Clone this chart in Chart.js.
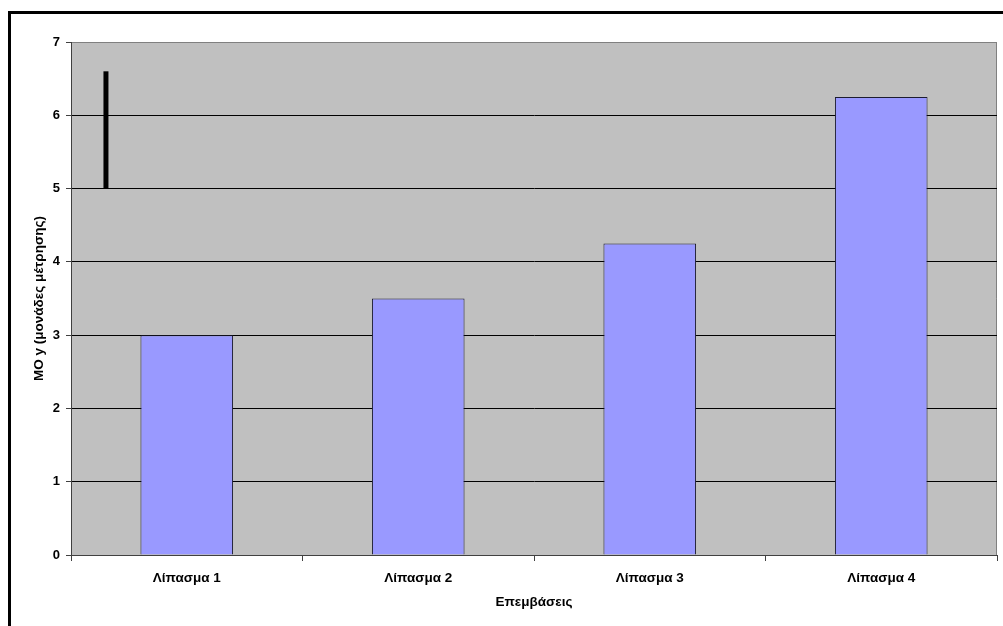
<!DOCTYPE html>
<html lang="el">
  <head>
    <meta charset="UTF-8" />
    <title>ΜΟ y ανά λίπασμα</title>
    <script src="https://cdn.jsdelivr.net/npm/chart.js"></script>
    <style>
      html, body { margin: 0; padding: 0; background: #fff; overflow: hidden; }
      #wrap { width: 1003px; height: 626px; }
    </style>
  </head>
  <body>
    <div id="wrap"><canvas id="fertChart" width="1003" height="626"></canvas></div>

    <script>
      // δεδομένα
      const categories = ["Λίπασμα 1", "Λίπασμα 2", "Λίπασμα 3", "Λίπασμα 4"];
      const meanY = [3, 3.5, 4.25, 6.25];
      const yTicks = [0, 1, 2, 3, 4, 5, 6, 7];
      // κάθετη γραμμή πάνω αριστερά (θέση x σε μονάδες κατηγορίας, από 0 έως 4)
      const markX = [0.151, 0.151];
      const markY = [5, 6.6];

      const FONT = "'Liberation Sans', Arial, sans-serif";

      // λευκό φόντο, πλαίσιο και γκρι περιοχή σχεδίασης
      const backdrop = {
        id: "backdrop",
        beforeDraw(chart) {
          const { ctx, chartArea: a, width, height } = chart;
          ctx.save();
          ctx.fillStyle = "#ffffff";
          ctx.fillRect(0, 0, width, height);
          ctx.strokeStyle = "#000000";
          ctx.lineWidth = 3;
          ctx.beginPath();
          ctx.moveTo(9.5, height + 5);
          ctx.lineTo(9.5, 12.5);
          ctx.lineTo(width + 5, 12.5);
          ctx.stroke();
          ctx.fillStyle = "#c0c0c0";
          ctx.fillRect(a.left, a.top, a.right - a.left, a.bottom - a.top);
          ctx.strokeStyle = "#808080";
          ctx.lineWidth = 1;
          ctx.beginPath();
          ctx.moveTo(a.left, a.top + 0.5);
          ctx.lineTo(a.right - 0.5, a.top + 0.5);
          ctx.lineTo(a.right - 0.5, a.bottom);
          ctx.stroke();
          ctx.restore();
        },
      };

      Chart.defaults.font.family = FONT;
      Chart.defaults.font.size = 13;
      Chart.defaults.font.weight = "bold";
      Chart.defaults.color = "#000000";

      new Chart(document.getElementById("fertChart"), {
        type: "bar",
        data: {
          labels: categories,
          datasets: [
            {
              label: "ΜΟ y",
              data: meanY,
              backgroundColor: "#9999ff",
              borderColor: "#1c1c30",
              borderWidth: 1,
              barPercentage: 0.4,
              categoryPercentage: 1,
              grouped: false,
              order: 2,
            },
            {
              type: "line",
              label: "γραμμή",
              xAxisID: "x2",
              data: markX.map((x, i) => ({ x: x, y: markY[i] })),
              borderColor: "#000000",
              borderWidth: 5,
              pointRadius: 0,
              fill: false,
              order: 1,
            },
          ],
        },
        options: {
          responsive: false,
          animation: false,
          layout: { padding: { left: 31, top: 42, right: 6, bottom: 16 } },
          plugins: {
            legend: { display: false },
            tooltip: { enabled: false },
          },
          scales: {
            x: {
              offset: true,
              grid: {
                offset: true,
                drawOnChartArea: false,
                tickLength: 6,
                tickColor: "#404040",
              },
              border: { color: "#404040", width: 1 },
              ticks: { padding: 9, font: { size: 13.5 } },
              title: {
                display: true,
                text: "Επεμβάσεις",
                font: { size: 13.5, weight: "bold" },
                padding: 0,
              },
              afterFit(axis) { axis.height = 55; },
            },
            x2: {
              type: "linear",
              display: false,
              offset: false,
              grid: { offset: false },
              min: 0,
              max: 4,
            },
            y: {
              min: 0,
              max: 7,
              afterBuildTicks(axis) { axis.ticks = yTicks.map((v) => ({ value: v })); },
              grid: {
                color: (c) => (c.tick && c.tick.value === 7 ? "#808080" : "#000000"),
                tickLength: 5,
                tickColor: "#404040",
              },
              border: { color: "#404040", width: 1 },
              ticks: { padding: 6, font: { size: 13 } },
              title: {
                display: true,
                text: "ΜΟ y (μονάδες μέτρησης)",
                font: { size: 13.5, weight: "bold" },
                padding: 0,
              },
              afterFit(axis) { axis.width = 40; },
            },
          },
        },
        plugins: [backdrop],
      });
    </script>
  </body>
</html>
